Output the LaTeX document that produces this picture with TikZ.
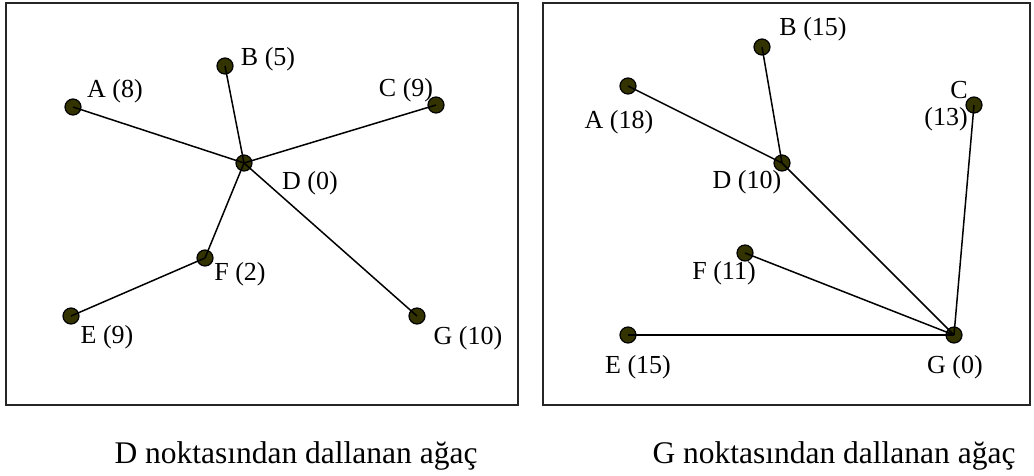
\documentclass[tikz,border=0pt]{standalone}
\usepackage{fontspec}
\setmainfont{Liberation Serif}
\usetikzlibrary{positioning}
\definecolor{dotolive}{RGB}{51,51,0}
\tikzset{
  vertex/.style={
    circle, draw=black, fill=dotolive,
    line width=1.2pt, minimum size=16pt, inner sep=0pt
  },
  lbl/.style={font=\fontsize{26}{27}\selectfont, inner sep=0pt},
  branch/.style={draw=black, line width=1.5pt},
  panel/.style={draw=black!85, line width=2pt},
  captxt/.style={font=\fontsize{31.5}{34}\selectfont, inner sep=0pt, anchor=base}
}

\begin{document}
\begin{tikzpicture}[x=1pt, y=-1pt]
\useasboundingbox (0,0) rectangle (1034,475);
% Cadres
\draw[panel] (6,3) rectangle (518,405);
\draw[panel] (543,3) rectangle (1030,405);
% Arbre D - sommets
\node[vertex] (dA) at (73,107)  {};
\node[vertex] (dB) at (225,66)  {};
\node[vertex] (dC) at (436,105) {};
\node[vertex] (dD) at (244,163) {};
\node[vertex] (dF) at (205,258) {};
\node[vertex] (dE) at (71,316)  {};
\node[vertex] (dG) at (417,316) {};
% Arbre D - etiquettes
\node[lbl] (ldA) at (115,91)  {A (8)};
\node[lbl] (ldB) at (268,59)  {B (5)};
\node[lbl] (ldC) at (406,90)  {C (9)};
\node[lbl] (ldD) at (310,183) {D (0)};
\node[lbl] (ldF) at (240,274) {F (2)};
\node[lbl] (ldE) at (107,337) {E (9)};
\node[lbl] (ldG) at (468,338) {G (10)};
% Arbre D - branches
\draw[branch] (dD.center) -- (dA.center);
\draw[branch] (dD.center) -- (dB.center);
\draw[branch] (dD.center) -- (dC.center);
\draw[branch] (dD.center) -- (dF.center);
\draw[branch] (dD.center) -- (dG.center);
\draw[branch] (dF.center) -- (dE.center);
% Arbre G - sommets
\node[vertex] (gA) at (628,86)  {};
\node[vertex] (gB) at (762,47)  {};
\node[vertex] (gC) at (974,105) {};
\node[vertex] (gD) at (782,163) {};
\node[vertex] (gF) at (745,253) {};
\node[vertex] (gE) at (628,335) {};
\node[vertex] (gG) at (954,335) {};
% Arbre G - etiquettes
\node[lbl] (lgA) at (619,122) {A (18)};
\node[lbl] (lgB) at (813,29)  {B (15)};
\node[lbl, align=right] (lgC) at (946,106) {C\\(13)};
\node[lbl] (lgD) at (747,182) {D (10)};
\node[lbl] (lgF) at (724,273) {F (11)};
\node[lbl] (lgE) at (638,367) {E (15)};
\node[lbl] (lgG) at (955,367) {G (0)};
% Arbre G - branches
\draw[branch] (gG.center) -- (gD.center);
\draw[branch] (gG.center) -- (gC.center);
\draw[branch] (gG.center) -- (gF.center);
\draw[branch] (gG.center) -- (gE.center);
\draw[branch] (gD.center) -- (gA.center);
\draw[branch] (gD.center) -- (gB.center);
% Legendes
\node[captxt] (capD) at (296,463) {D noktasından dallanan ağaç};
\node[captxt] (capG) at (834,463) {G noktasından dallanan ağaç};
\end{tikzpicture}
\end{document}
